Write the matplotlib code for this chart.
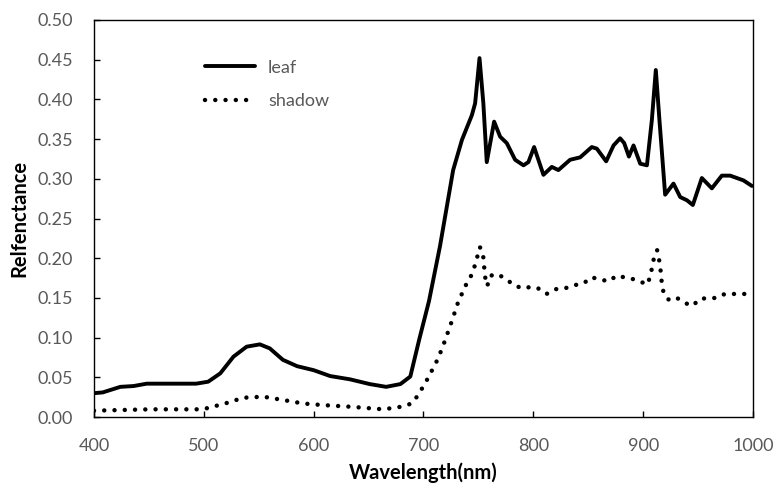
import matplotlib
matplotlib.use("Agg")
import matplotlib.pyplot as plt

# leaf reflectance
leaf_wl = [400, 408, 424, 436, 448, 470, 493, 504, 515, 527, 539, 551, 560, 572,
           585, 600, 615, 633, 651, 666, 679, 688, 696, 705, 715, 727, 735, 744,
           747, 751, 754.5, 757.6, 764.3, 769.8, 775.8, 783.4, 791, 795.5, 800.7,
           809.2, 816.8, 822.8, 833.5, 842.6, 853.2, 857.8, 866.3, 873, 879,
           882.7, 887, 891.2, 897.3, 903.4, 907.9, 911.5, 914.8, 920, 927.6,
           933.7, 939.8, 945.2, 953.4, 962.5, 971.6, 979.2, 991.3, 999]
leaf_r = [0.030, 0.031, 0.038, 0.039, 0.042, 0.042, 0.042, 0.0445, 0.055, 0.076,
          0.0886, 0.0915, 0.0865, 0.072, 0.064, 0.059, 0.0516, 0.0475, 0.0415,
          0.038, 0.0415, 0.051, 0.097, 0.146, 0.215, 0.311, 0.349, 0.380, 0.395,
          0.452, 0.395, 0.321, 0.372, 0.353, 0.345, 0.324, 0.317, 0.321, 0.340,
          0.305, 0.315, 0.311, 0.324, 0.327, 0.340, 0.338, 0.322, 0.342, 0.351,
          0.345, 0.328, 0.342, 0.319, 0.317, 0.374, 0.437, 0.374, 0.280, 0.294,
          0.277, 0.273, 0.267, 0.301, 0.288, 0.304, 0.304, 0.298, 0.291]

# shadow reflectance
shadow_wl = [400, 451, 493.5, 502.6, 519.3, 536, 554.2, 572.4, 590.6, 608.8, 633,
             663.4, 680, 689.2, 695.2, 704.3, 713.4, 719.5, 725.6, 731.6, 739.2,
             743.8, 746.8, 751.4, 754.4, 756, 758, 761.1, 767.2, 775, 782.3, 790.2,
             798.4, 804.4, 812, 820.2, 828.7, 836.9, 845.4, 853, 861.2, 868.8,
             875.8, 882.7, 890, 896.3, 904, 906.7, 908.5, 910.3, 912.7, 914.5,
             915.8, 916.7, 918.2, 922.8, 929.7, 937.3, 945, 951.6, 958.3, 966.2,
             974.4, 983.5, 994]
shadow_r = [0.008, 0.0097, 0.0097, 0.011, 0.017, 0.0243, 0.0256, 0.0214, 0.017,
            0.015, 0.013, 0.0097, 0.013, 0.017, 0.0277, 0.0495, 0.074, 0.096,
            0.120, 0.145, 0.168, 0.179, 0.191, 0.214, 0.202, 0.177, 0.165, 0.178,
            0.180, 0.174, 0.166, 0.162, 0.164, 0.162, 0.155, 0.161, 0.162, 0.166,
            0.168, 0.176, 0.173, 0.171, 0.178, 0.176, 0.174, 0.171, 0.167, 0.179,
            0.191, 0.204, 0.210, 0.198, 0.185, 0.172, 0.159, 0.148, 0.151, 0.144,
            0.140, 0.149, 0.1495, 0.150, 0.155, 0.155, 0.155]

plt.rcParams['font.family'] = ['Lato', 'DejaVu Sans']
grey = '#595959'

fig = plt.figure(figsize=(7.74, 4.83), dpi=100)
ax = fig.add_axes([0.1214, 0.1366, 0.8515, 0.822])

ax.plot(leaf_wl, leaf_r, color='black', lw=2.8, solid_joinstyle='round',
        solid_capstyle='round', label='leaf')
ax.plot(shadow_wl, shadow_r, color='black', lw=3.2, linestyle=(0, (0.01, 2.3)),
        dash_capstyle='round', label='shadow')

ax.set_xlim(400, 1000)
ax.set_ylim(0, 0.5)
ax.set_xticks(range(400, 1001, 100))
ax.set_yticks([i * 0.05 for i in range(11)])
ax.yaxis.set_major_formatter(matplotlib.ticker.FormatStrFormatter('%.2f'))
ax.tick_params(direction='in', length=4, width=1, colors='black',
               labelcolor=grey, labelsize=13)
ax.tick_params(axis='x', pad=15)
ax.tick_params(axis='y', pad=15)
for s in ax.spines.values():
    s.set_color('black')
    s.set_linewidth(1.0)

ax.set_xlabel('Wavelength(nm)', fontsize=14.5, fontweight='bold', labelpad=6)
ax.set_ylabel('Relfenctance', fontsize=14.5, fontweight='bold', labelpad=6)

leg = ax.legend(loc='upper left', bbox_to_anchor=(0.168, 0.9), frameon=False,
                borderpad=0, borderaxespad=0, handlelength=2.8,
                handletextpad=0.7, labelspacing=0.95, fontsize=13)
for t in leg.get_texts():
    t.set_color(grey)

fig.savefig('out.png', dpi=100)
